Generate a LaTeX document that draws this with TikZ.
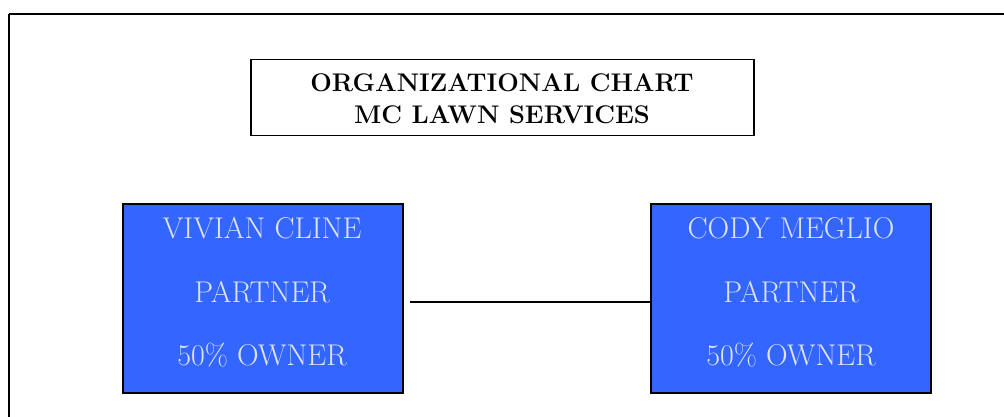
\documentclass[tikz,border=0pt]{standalone}
\usetikzlibrary{positioning}
\definecolor{boxblue}{RGB}{51,102,255}
\definecolor{boxtext}{RGB}{222,226,255}
\begin{document}
\begin{tikzpicture}[x=1pt,y=-1pt,
  frame/.style={draw=black,line width=2pt},
  person/.style={draw=black,line width=2pt,fill=boxblue,minimum width=280pt,minimum height=189pt,anchor=north west,inner sep=0pt},
  ptext/.style={text=boxtext,font=\fontsize{30}{33}\selectfont},
  ttext/.style={font=\bfseries\fontsize{25.5}{28}\selectfont}]
\useasboundingbox (0,0) rectangle (1004,417);
\draw[frame] (9,14) -- (1010,14);
\draw[frame] (9,14) -- (9,425);
\node[draw=black,line width=1.5pt,minimum width=503pt,minimum height=76pt,anchor=north west,inner sep=0pt] (title) at (250,59) {};
\node[ttext] (t1) at (502,83) {ORGANIZATIONAL CHART};
\node[ttext] (t2) at (502,115) {MC LAWN SERVICES};
\node[person] (vc) at (122,203) {};
\node[person] (cm) at (650,203) {};
\node[ptext] (vc1) at (262,228) {VIVIAN CLINE};
\node[ptext] (vc2) at (262,292) {PARTNER};
\node[ptext] (vc3) at (262,355) {50\% OWNER};
\node[ptext] (cm1) at (791,228) {CODY MEGLIO};
\node[ptext] (cm2) at (791,292) {PARTNER};
\node[ptext] (cm3) at (791,355) {50\% OWNER};
\coordinate (c0) at (410,302);
\draw[line width=1.5pt] (c0) -- (c0 -| cm.west);
\end{tikzpicture}
\end{document}
